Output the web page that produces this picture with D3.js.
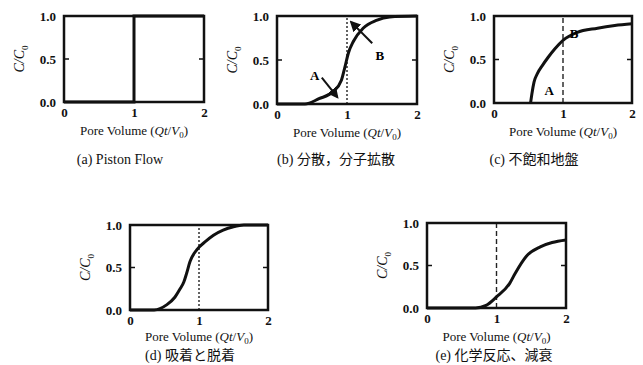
<!DOCTYPE html>
<html>
<head>
<meta charset="utf-8">
<script src="https://cdn.jsdelivr.net/npm/d3@7"></script>
<style>
    body { margin: 0; background: #fff; }
    svg { font-family: "Liberation Serif", "Noto Sans CJK JP", serif; }
    .tick text { font-size: 13px; font-weight: bold; fill: #111; font-family: "Liberation Serif", serif; }
    .caption { font-size: 14px; fill: #111; font-family: "Liberation Serif", "Noto Sans CJK JP", serif; }
    .axisTitle { font-size: 13px; fill: #111; font-family: "Liberation Serif", serif; }
</style>
</head>
<body>
<div id="chart"></div>
<script>
(function () {

    // breakthrough curves, C/C0 against pore volume

    var xTicks = [0, 1, 2];
    var yTicks = [0, 0.5, 1.0];

    // (a) piston flow
    var pistonX = [0, 1, 1, 2];
    var pistonY = [0, 0, 1, 1];

    // (b) dispersion
    var dispX = [0, 0.4, 0.6, 0.8, 0.92, 0.97, 1.02, 1.09, 1.23, 1.42, 1.61, 2.0];
    var dispY = [0, 0, 0.06, 0.14, 0.27, 0.42, 0.58, 0.71, 0.86, 0.95, 0.99, 1.0];

    // (c) unsaturated ground
    var unsatX = [0.53, 0.55, 0.58, 0.63, 0.70, 0.78, 0.88, 1.0, 1.2, 1.5, 1.75, 2.0];
    var unsatY = [0, 0.11, 0.24, 0.34, 0.43, 0.52, 0.62, 0.72, 0.81, 0.86, 0.89, 0.91];

    // (d) sorption / desorption
    var sorbX = [0, 0.35, 0.53, 0.65, 0.72, 0.78, 0.82, 0.87, 0.97, 1.1, 1.21, 1.35, 1.5, 1.65, 2.0];
    var sorbY = [0, 0, 0.06, 0.15, 0.24, 0.33, 0.43, 0.57, 0.71, 0.81, 0.88, 0.94, 0.98, 1.0, 1.0];

    // (e) chemical reaction, decay
    var decayX = [0, 0.7, 0.85, 1.0, 1.19, 1.27, 1.43, 1.63, 1.8, 2.0];
    var decayY = [0, 0, 0.03, 0.13, 0.29, 0.41, 0.61, 0.72, 0.77, 0.80];

    var captions = ['(a) Piston Flow', '(b) 分散，分子拡散', '(c) 不飽和地盤', '(d) 吸着と脱着', '(e) 化学反応、減衰'];

    // annotation labels and arrows (data units)
    var labelsB = [{ t: 'A', x: 0.54, y: 0.33 }, { t: 'B', x: 1.47, y: 0.55 }];
    var arrowsB = [{ x1: 0.64, y1: 0.30, x2: 0.86, y2: 0.08 }, { x1: 1.36, y1: 0.69, x2: 1.06, y2: 0.93 }];
    var labelsC = [{ t: 'A', x: 0.80, y: 0.14 }, { t: 'B', x: 1.16, y: 0.80 }];


    var W = 643, H = 365;

    var svg = d3.select('#chart')
        .append('svg')
        .attr('width', W)
        .attr('height', H);

    var defs = svg.append('defs');
    defs.append('marker')
        .attr('id', 'arrow')
        .attr('viewBox', '0 0 10 10')
        .attr('refX', 8)
        .attr('refY', 5)
        .attr('markerWidth', 5.5)
        .attr('markerHeight', 5.5)
        .attr('orient', 'auto')
        .append('path')
        .attr('d', 'M0,0 L10,5 L0,10 z')
        .attr('fill', '#111');


    var panels = [
        { left: 64, top: 16, w: 140, h: 86, xs: pistonX, ys: pistonY, curve: d3.curveLinear, dash: false, capX: 120, capY: 164, titleDy: 33 },
        { left: 277, top: 16, w: 140, h: 88, xs: dispX, ys: dispY, curve: d3.curveMonotoneX, dash: '2,2', capX: 336, capY: 164, titleDy: 33, labels: labelsB, arrows: arrowsB },
        { left: 494, top: 16, w: 138, h: 87, xs: unsatX, ys: unsatY, curve: d3.curveMonotoneX, dash: '5,3', capX: 534, capY: 164, titleDy: 33, labels: labelsC },
        { left: 130, top: 225, w: 138, h: 85, xs: sorbX, ys: sorbY, curve: d3.curveMonotoneX, dash: '2,2', capX: 190, capY: 360, titleDy: 31 },
        { left: 427, top: 223, w: 139, h: 85, xs: decayX, ys: decayY, curve: d3.curveMonotoneX, dash: '5,3', capX: 494, capY: 360, titleDy: 33 }
    ];


    var drawPanel = function (p, i) {

        var g = svg.append('g')
            .attr('transform', 'translate(' + p.left + ',' + p.top + ')');

        var x = d3.scaleLinear().domain([0, 2]).range([0, p.w]);
        var y = d3.scaleLinear().domain([0, 1]).range([p.h, 0]);

        // tick labels
        g.append('g')
            .attr('transform', 'translate(0,' + p.h + ')')
            .call(d3.axisBottom(x).tickValues(xTicks).tickSize(0).tickPadding(6).tickFormat(d3.format('d')))
            .call(a => a.select('.domain').remove());

        g.append('g')
            .call(d3.axisLeft(y).tickValues(yTicks).tickSize(0).tickPadding(8).tickFormat(d3.format('.1f')))
            .call(a => a.select('.domain').remove());

        // small inner ticks at 0.5
        g.append('line')
            .attr('x1', x(0)).attr('x2', x(0) + 5)
            .attr('y1', y(0.5)).attr('y2', y(0.5))
            .attr('stroke', '#111').attr('stroke-width', 1.5);
        g.append('line')
            .attr('x1', x(2)).attr('x2', x(2) - 5)
            .attr('y1', y(0.5)).attr('y2', y(0.5))
            .attr('stroke', '#111').attr('stroke-width', 1.5);

        // dashed line at one pore volume
        if (p.dash) {
            g.append('line')
                .attr('x1', x(1)).attr('x2', x(1))
                .attr('y1', y(0)).attr('y2', y(1))
                .attr('stroke', '#222')
                .attr('stroke-width', 1.4)
                .attr('stroke-dasharray', p.dash);
        }

        var pts = p.xs.map((d, j) => [d, p.ys[j]]);

        var line = d3.line()
            .x(d => x(d[0]))
            .y(d => y(d[1]))
            .curve(p.curve);

        g.append('path')
            .datum(pts)
            .attr('d', line)
            .attr('fill', 'none')
            .attr('stroke', '#111')
            .attr('stroke-width', 3);

        // frame
        g.append('rect')
            .attr('width', p.w)
            .attr('height', p.h)
            .attr('fill', 'none')
            .attr('stroke', '#111')
            .attr('stroke-width', 2.5);

        if (p.arrows) {
            g.selectAll('.arr')
                .data(p.arrows)
                .enter()
                .append('line')
                .attr('x1', d => x(d.x1)).attr('y1', d => y(d.y1))
                .attr('x2', d => x(d.x2)).attr('y2', d => y(d.y2))
                .attr('stroke', '#111')
                .attr('stroke-width', 2)
                .attr('marker-end', 'url(#arrow)');
        }

        if (p.labels) {
            g.selectAll('.lab')
                .data(p.labels)
                .enter()
                .append('text')
                .attr('x', d => x(d.x))
                .attr('y', d => y(d.y))
                .attr('text-anchor', 'middle')
                .attr('dy', '0.35em')
                .style('font-size', '13px')
                .style('font-weight', 'bold')
                .text(d => d.t);
        }

        // y axis title C/C0
        var yt = g.append('text')
            .attr('transform', 'translate(-40,' + (p.h / 2) + ') rotate(-90)')
            .attr('text-anchor', 'middle')
            .attr('class', 'axisTitle')
            .style('font-size', '14px');
        yt.append('tspan').style('font-style', 'italic').text('C/C');
        yt.append('tspan').attr('dy', 4).style('font-size', '9px').text('0');

        // x axis title
        var xt = g.append('text')
            .attr('x', p.w / 2)
            .attr('y', p.h + p.titleDy)
            .attr('text-anchor', 'middle')
            .attr('class', 'axisTitle');
        xt.append('tspan').text('Pore Volume (');
        xt.append('tspan').style('font-style', 'italic').text('Qt');
        xt.append('tspan').text('/');
        xt.append('tspan').style('font-style', 'italic').text('V');
        xt.append('tspan').attr('dy', 3).style('font-size', '9px').text('0');
        xt.append('tspan').attr('dy', -3).text(')');

        // caption
        svg.append('text')
            .attr('class', 'caption')
            .attr('x', p.capX)
            .attr('y', p.capY)
            .attr('text-anchor', 'middle')
            .text(captions[i]);
    };

    panels.forEach(drawPanel);

})()
</script>
</body>
</html>
